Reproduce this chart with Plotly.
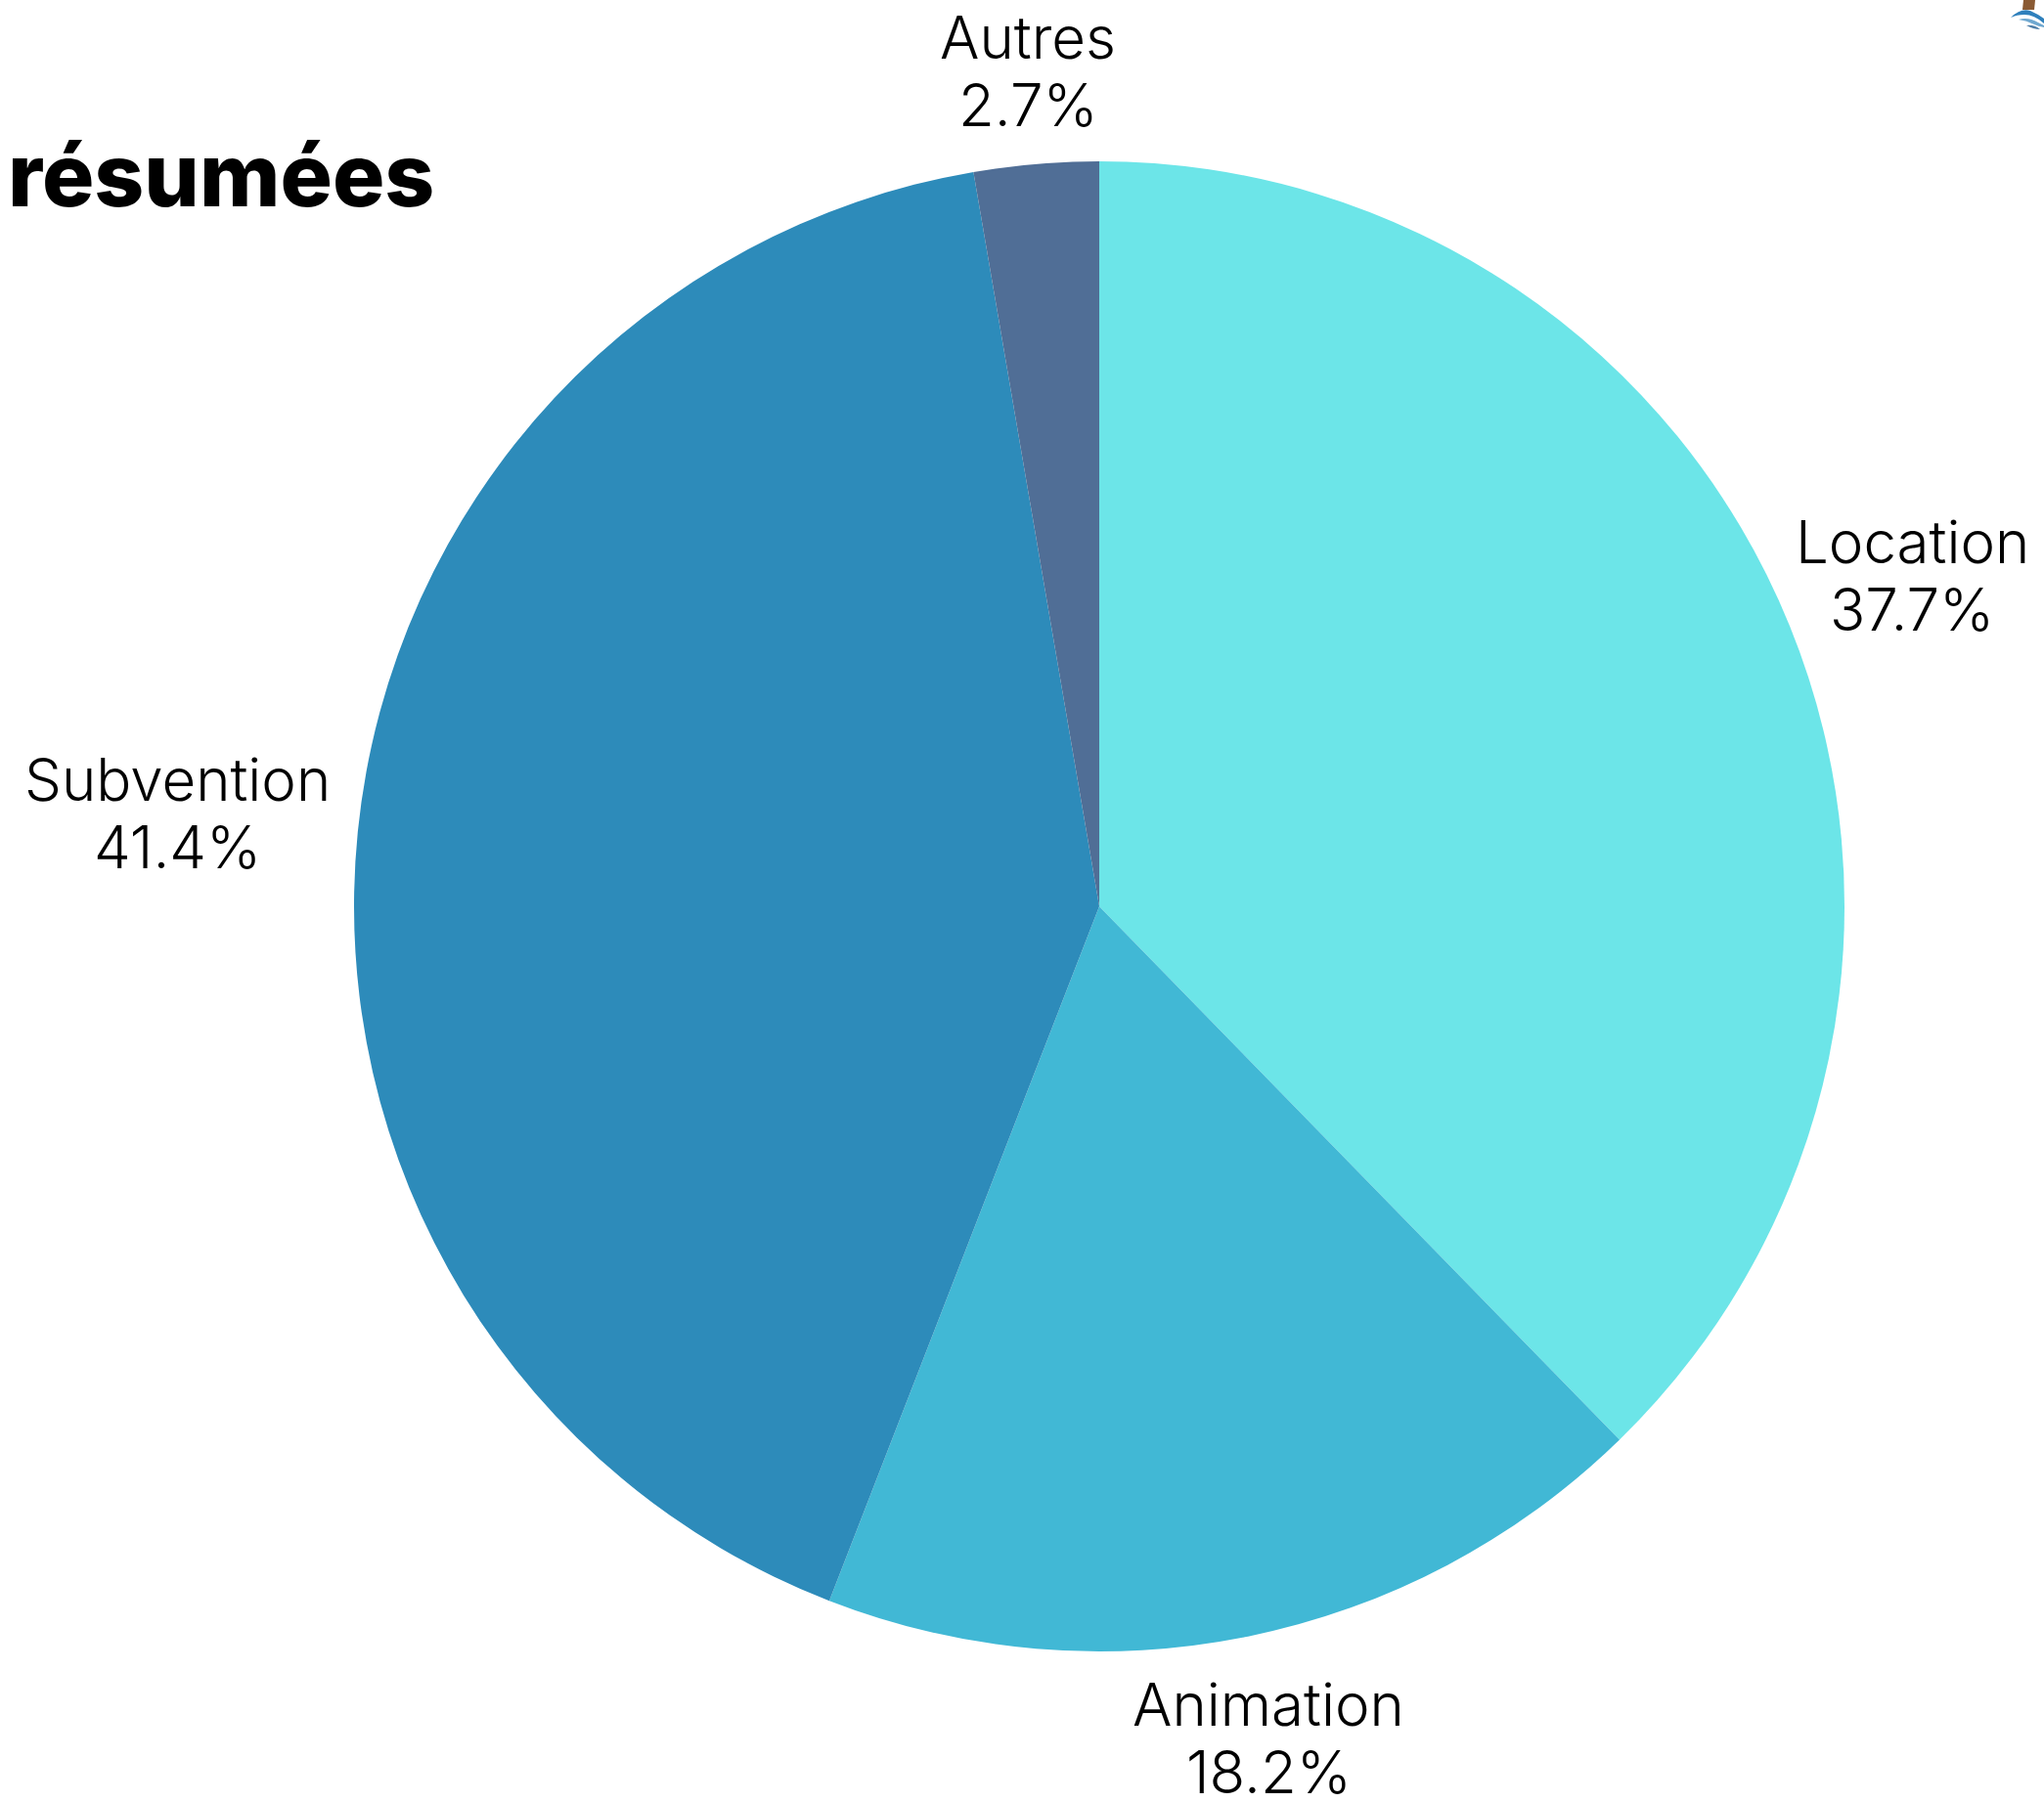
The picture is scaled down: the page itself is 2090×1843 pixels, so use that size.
import math
import plotly.graph_objects as go

labels = ["Location", "Animation", "Subvention", "Autres"]
values = [37.7, 18.2, 41.4, 2.7]
colors = ["#6CE5E8", "#41B8D5", "#2D8BBA", "#506E96"]
label_radius = [1.178, 1.139, 1.243, 1.125]

W, H = 2090, 1843
CX, CY, R = 1124.0, 927.0, 762.0
LINE_GAP = 69.0
LABEL_FONT = dict(family="Inter", size=60, color="#000000", weight=300)

fig = go.Figure(go.Pie(
    labels=labels, values=values, sort=False, direction="clockwise", rotation=0,
    marker=dict(colors=colors, line=dict(width=0)),
    textinfo="none", automargin=False, showlegend=False,
    domain=dict(x=[(CX-R)/W, (CX+R)/W], y=[1-(CY+R)/H, 1-(CY-R)/H]),
))


def text_at(text, px, py, font, anchor="center"):
    return dict(text=text, x=px / W, y=1 - py / H, xref="paper", yref="paper",
                xanchor=anchor, yanchor="middle", showarrow=False, font=font)


annotations = []
total = sum(values)
cum = 0.0
for lab, val, k in zip(labels, values, label_radius):
    ang = 2 * math.pi * (cum + val / 2) / total
    cum += val
    px = CX + k * R * math.sin(ang)
    py = CY - k * R * math.cos(ang)
    annotations.append(text_at(lab, px, py - LINE_GAP / 2, LABEL_FONT))
    annotations.append(text_at(f"{val:.1f}%", px, py + LINE_GAP / 2, LABEL_FONT))
annotations.append(text_at("résumées", 6, 179,
                           dict(family="Inter", size=89, color="#000000", weight=800), anchor="left"))


def logo_path(points):
    s = ""
    for cmd, pts in points:
        s += cmd + " ".join(f"{x / W:.5f},{1 - y / H:.5f}" for x, y in pts) + " "
    return s + "Z"


shapes = [
    dict(type="path", xref="paper", yref="paper", line=dict(width=0), fillcolor="#8A5A33",
         path=logo_path([("M", [(2069, 0)]), ("L", [(2081, 0)]), ("L", [(2080, 10)]), ("L", [(2068, 10)])])),
    dict(type="path", xref="paper", yref="paper", line=dict(width=0), fillcolor="#2F80BC",
         path=logo_path([("M", [(2056, 18)]), ("Q", [(2066, 8), (2076, 11)]), ("Q", [(2083, 14), (2090, 19)]),
                         ("L", [(2090, 24)]), ("Q", [(2080, 15), (2070, 15)]), ("Q", [(2062, 15), (2056, 18)])])),
    dict(type="path", xref="paper", yref="paper", line=dict(width=0), fillcolor="#6FA8D0",
         path=logo_path([("M", [(2064, 20)]), ("Q", [(2074, 17), (2084, 23)]), ("L", [(2090, 26)]),
                         ("L", [(2090, 28)]), ("Q", [(2084, 27), (2080, 25)]), ("Q", [(2072, 21), (2064, 20)])])),
    dict(type="path", xref="paper", yref="paper", line=dict(width=0), fillcolor="#4F7FA8",
         path=logo_path([("M", [(2072, 26)]), ("Q", [(2080, 25), (2086, 30)]), ("Q", [(2079, 30), (2072, 26)])])),
]

fig.update_layout(
    width=W, height=H, paper_bgcolor="#ffffff", plot_bgcolor="#ffffff",
    margin=dict(l=0, r=0, t=0, b=0), annotations=annotations, shapes=shapes,
)
fig.write_html("out.html", config=dict(displayModeBar=False),
               post_script="document.body.style.margin='0';")
